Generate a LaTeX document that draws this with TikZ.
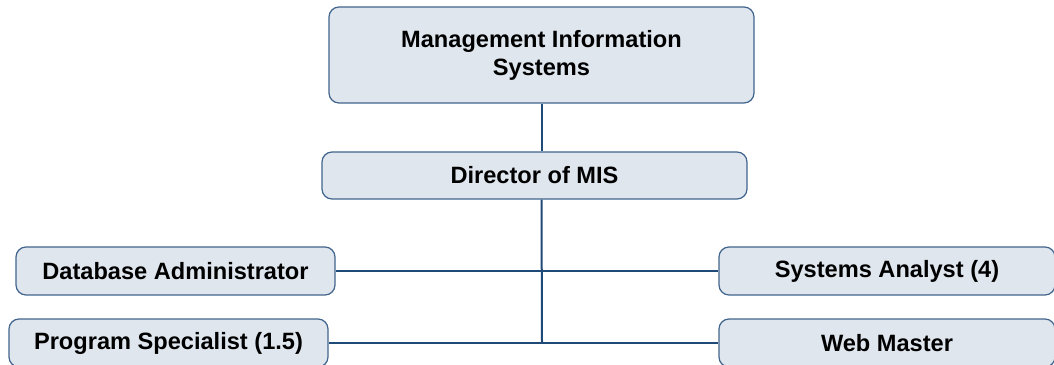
\documentclass[tikz,border=0pt]{standalone}
\usepackage{fontspec}
\setmainfont{Liberation Sans}
\usetikzlibrary{positioning}
\definecolor{boxfill}{HTML}{DFE6EE}
\definecolor{boxline}{HTML}{41648C}
\definecolor{wire}{HTML}{1F4A78}
\tikzset{
  unit/.style={draw=boxline, fill=boxfill, line width=1.2pt, rounded corners=10pt,
    align=center, inner sep=0pt, font=\fontsize{23.6}{28}\selectfont\bfseries},
  link/.style={draw=wire, line width=2pt}
}
\begin{document}
\begin{tikzpicture}[x=1pt, y=1pt]
  \useasboundingbox (0,0) rectangle (1054,364);
  % boxes
  \node[unit, minimum width=425pt, minimum height=96pt] (mis) at (541.5,309)
    {Management Information\\Systems};
  \node[unit, minimum width=425pt, minimum height=47pt] (dir) at (534.5,188.5) {Director of MIS};
  \node[unit, minimum width=319pt, minimum height=48pt] (dba) at (175.5,93) {Database Administrator};
  \node[unit, minimum width=319pt, minimum height=48pt] (ps) at (168.5,21) {Program Specialist (1.5)};
  \node[unit, minimum width=336pt, minimum height=48pt] (sa) at (887,93) {Systems Analyst (4)};
  \node[unit, minimum width=336pt, minimum height=48pt] (wm) at (887,21) {Web Master};
  % connectors
  \coordinate (trunk) at (542,21);
  \draw[link] (mis.south) -- (mis.south |- dir.north);
  \draw[link] (mis.south |- dir.south) -- (trunk);
  \draw[link] (dba.east) -- (sa.west);
  \draw[link] (ps.east) -- (wm.west);
\end{tikzpicture}
\end{document}
